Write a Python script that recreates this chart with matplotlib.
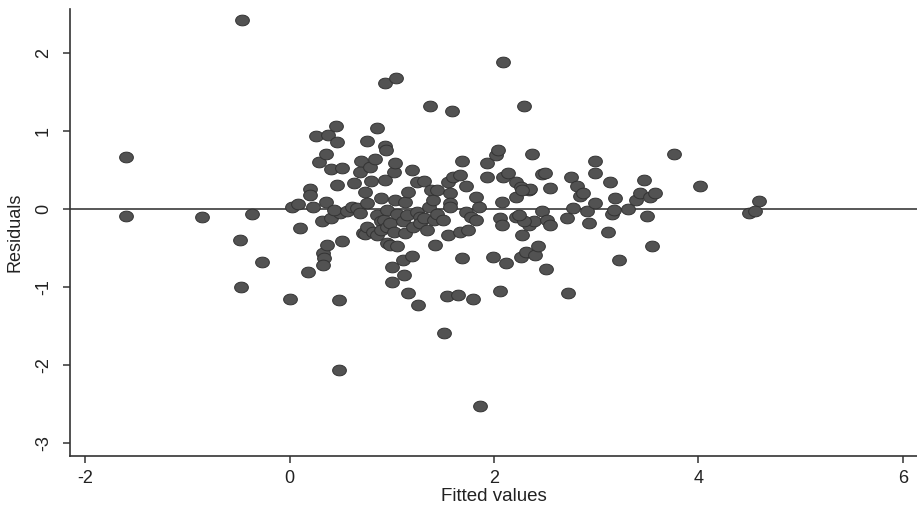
import matplotlib
matplotlib.use("Agg")
import matplotlib.pyplot as plt
from matplotlib.path import Path
import numpy as np

plt.rcParams['font.family'] = ['Liberation Sans', 'DejaVu Sans']

# (fitted, residual) pairs
points = [
    (-1.60, 0.66), (-1.60, -0.09), (-0.86, -0.11), (-0.47, 2.42), (-0.37, -0.06),
    (-0.49, -0.40), (-0.48, -1.00), (-0.27, -0.68), (0.00, -1.16), (0.48, -2.07),
    (1.51, -1.59), (1.86, -2.53), (4.59, 0.10), (4.50, -0.05), (4.55, -0.03),
    (4.02, 0.29), (3.76, 0.70), (0.93, 1.62), (1.04, 1.68), (2.09, 1.89),
    (2.29, 1.32), (1.37, 1.32), (1.59, 1.25),
    (0.02, 0.02), (0.08, 0.06), (0.10, -0.24), (0.18, -0.81), (0.20, 0.26),
    (0.20, 0.18), (0.23, 0.03), (0.26, 0.94), (0.29, 0.60), (0.32, -0.16),
    (0.33, -0.57), (0.34, -0.63), (0.33, -0.72), (0.36, 0.71), (0.36, 0.09),
    (0.37, -0.46), (0.38, 0.95), (0.40, 0.51), (0.40, -0.12), (0.45, 1.06),
    (0.46, 0.86), (0.46, 0.31), (0.48, -1.17), (0.49, -0.05), (0.43, -0.01),
    (0.51, 0.53), (0.51, -0.41), (0.56, -0.03),
    (0.61, 0.03), (0.63, 0.33), (0.66, 0.01), (0.69, 0.48), (0.69, -0.05),
    (0.70, 0.62), (0.72, -0.31), (0.74, 0.22), (0.74, -0.32), (0.76, 0.87),
    (0.76, 0.07), (0.76, -0.23), (0.79, 0.54), (0.80, 0.36), (0.82, -0.29),
    (0.84, 0.64), (0.85, 1.04), (0.85, -0.08), (0.85, -0.33), (0.89, 0.14),
    (0.89, -0.16), (0.89, -0.27), (0.92, -0.14), (0.93, 0.37), (0.93, 0.81),
    (0.94, 0.75), (0.95, -0.01), (0.95, -0.23), (0.95, -0.44), (0.98, -0.18),
    (0.98, -0.46), (1.00, -0.74), (1.00, -0.94),
    (1.02, 0.48), (1.02, -0.29), (1.03, 0.59), (1.03, 0.12), (1.05, -0.06),
    (1.05, -0.48), (1.11, -0.65), (1.11, -0.16), (1.13, 0.09), (1.13, -0.31),
    (1.15, -0.08), (1.16, 0.22), (1.16, -1.08), (1.20, 0.50), (1.20, -0.60),
    (1.21, -0.23), (1.12, -0.85), (1.25, 0.35), (1.25, -0.04), (1.26, -1.23),
    (1.28, -0.10), (1.28, -0.18), (1.31, 0.36), (1.31, -0.12), (1.34, -0.27),
    (1.36, 0.03), (1.38, 0.24), (1.40, 0.11), (1.41, -0.14), (1.42, -0.46),
    (1.44, 0.24), (1.44, -0.06), (1.50, -0.14), (1.54, -1.12),
    (1.55, 0.34), (1.55, -0.33), (1.57, 0.20), (1.57, 0.07), (1.57, 0.03),
    (1.60, 0.41), (1.65, -1.11), (1.67, 0.44), (1.67, -0.29), (1.69, 0.62),
    (1.69, -0.63), (1.73, 0.29), (1.73, -0.04), (1.75, -0.27), (1.77, -0.10),
    (1.79, -1.15), (1.82, 0.15), (1.82, -0.14), (1.85, 0.03), (1.93, 0.59),
    (1.93, 0.41), (1.99, -0.62),
    (2.02, 0.69), (2.04, 0.76), (2.06, -0.12), (2.06, -1.05), (2.08, -0.21),
    (2.08, 0.09), (2.09, 0.41), (2.12, -0.70), (2.14, 0.46), (2.22, 0.35),
    (2.22, 0.15), (2.22, -0.10), (2.26, 0.28), (2.26, -0.62), (2.27, -0.33),
    (2.31, -0.55), (2.34, 0.24), (2.34, -0.21), (2.37, 0.70), (2.39, -0.16),
    (2.40, -0.59), (2.43, -0.48), (2.47, -0.03), (2.47, 0.45), (2.50, 0.46),
    (2.29, -0.16), (2.24, -0.08), (2.35, 0.25), (2.27, 0.24),
    (2.52, -0.14), (2.51, -0.77), (2.55, 0.27), (2.55, -0.20), (2.72, -1.08),
    (2.71, -0.12), (2.75, 0.41), (2.77, 0.01), (2.81, 0.29), (2.84, 0.16),
    (2.87, 0.20), (2.91, -0.03), (2.93, -0.18), (2.99, 0.07), (2.99, 0.61),
    (2.99, 0.46), (3.12, -0.30), (3.14, 0.34), (3.15, -0.06), (3.17, -0.01),
    (3.18, 0.14), (3.22, -0.65), (3.31, 0.00), (3.39, 0.12), (3.43, 0.20),
    (3.47, 0.37), (3.50, -0.09), (3.53, 0.15), (3.55, -0.47), (3.58, 0.21),
]
fitted = [p[0] for p in points]
residuals = [p[1] for p in points]

x_ticks = [-2, 0, 2, 4, 6]
y_ticks = [-3, -2, -1, 0, 1, 2]

fig = plt.figure(figsize=(9.17, 5.11), dpi=100)
ax = fig.add_axes([70 / 917, 1 - 456 / 511, 1 - 70 / 917, (456 - 9) / 511])

ax.set_xlim(-2.15, 6.14)
ax.set_ylim(-3.17, 2.565)

ax.axhline(0, color='#4a4a4a', lw=1.3, zorder=1)

t = np.linspace(0, 2 * np.pi, 40)
ell = Path(np.column_stack([np.cos(t), 0.78 * np.sin(t)]))
ax.scatter(fitted, residuals, marker=ell, s=98, color='#525252',
           edgecolors='#333333', linewidths=0.7, zorder=3)

for side in ['top', 'right']:
    ax.spines[side].set_visible(False)
for side in ['left', 'bottom']:
    ax.spines[side].set_color('#333333')
    ax.spines[side].set_linewidth(1.2)

ax.set_xticks(x_ticks)
ax.set_yticks(y_ticks)
ax.set_xticklabels([str(v) for v in x_ticks])
ax.set_yticklabels([str(v) for v in y_ticks], rotation=90, va='center')
ax.tick_params(axis='both', direction='out', length=5, width=1.1,
               color='#333333', labelcolor='#222222', labelsize=13, pad=5)
ax.tick_params(axis='y', pad=8)

ax.set_xlabel('Fitted values', fontsize=13.5, color='#222222', labelpad=1)
ax.set_ylabel('Residuals', fontsize=13, color='#222222', labelpad=8)

fig.savefig('out.png', dpi=100, facecolor='white')
